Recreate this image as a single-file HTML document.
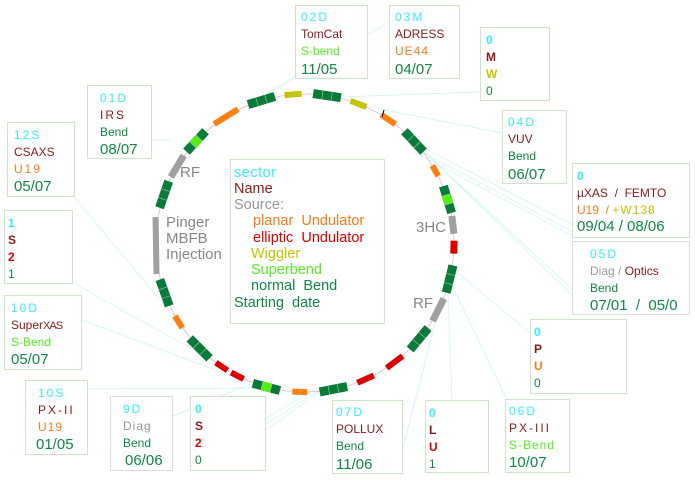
<!DOCTYPE html>
<html><head><meta charset="utf-8">
<style>
body{margin:0;background:#fff;width:695px;height:480px;overflow:hidden;position:relative;font-family:"Liberation Sans",sans-serif}
.b{position:absolute;border:1px solid #cfe6c6;background:#fff;box-sizing:border-box}
.t{position:absolute;left:5px;font-size:12px;white-space:nowrap;line-height:14px}
.d{font-size:15px;line-height:16px}
.c{color:#33eeff;letter-spacing:2px}
.r{color:#8b1a1a}
.o{color:#ff7a1a}
.lg{color:#55ee22}
.g{color:#118844}
.y{color:#c4c400}
.gr{color:#999}
.rr{color:#dd0000}
.bold{font-weight:bold}
svg{position:absolute;left:0;top:0}
.lab{position:absolute;color:#888;font-size:15px;line-height:16px}
.lt{position:absolute;font-size:14.5px;white-space:nowrap;line-height:16px}
</style></head><body>
<svg id="s" width="695" height="480"></svg>

<div class="b" style="left:295px;top:5px;width:73px;height:74px">
<div class="t c" style="top:4px">02D</div><div class="t r" style="top:21px">TomCat</div><div class="t lg" style="top:38px">S-bend</div><div class="t g d" style="top:56px">11/05</div></div>
<div class="b" style="left:389px;top:5px;width:71px;height:74px">
<div class="t c" style="top:4px">03M</div><div class="t r" style="top:21px">ADRESS</div><div class="t o" style="top:38px;letter-spacing:1px">UE44</div><div class="t g d" style="top:56px">04/07</div></div>
<div class="b" style="left:480px;top:27px;width:70px;height:74px">
<div class="t c bold" style="top:5px">0</div><div class="t r bold" style="top:22px">M</div><div class="t y bold" style="top:39px">W</div><div class="t g" style="top:56px">0</div></div>
<div class="b" style="left:502px;top:110px;width:65px;height:74px">
<div class="t c" style="top:4px">04D</div><div class="t r" style="top:21px">VUV</div><div class="t g" style="top:38px">Bend</div><div class="t g d" style="top:56px">06/07</div></div>
<div class="b" style="left:572px;top:163px;width:118px;height:75px">
<div class="t c bold" style="top:5px;left:4px">0</div><div class="t r" style="top:22px;left:4px">µXAS &nbsp;/ &nbsp;FEMTO</div><div class="t o" style="top:39px;left:4px">U19 &nbsp;/ <span class="y" style="letter-spacing:1px">+W138</span></div><div class="t g d" style="top:55px;left:4px">09/04 / 08/06</div></div>
<div class="b" style="left:572px;top:241px;width:118px;height:74px;border-color:#ddd">
<div class="t c" style="top:5px;left:17px">05D</div><div class="t" style="top:22px;left:17px"><span class="gr">Diag</span> <span class="gr">/</span> <span class="r">Optics</span></div><div class="t g" style="top:39px;left:17px">Bend</div><div class="t g d" style="top:56px;left:17px">07/01 &nbsp;/ &nbsp;05/0</div></div>
<div class="b" style="left:530px;top:319px;width:97px;height:75px">
<div class="t c bold" style="top:5px;left:3px">0</div><div class="t r bold" style="top:22px;left:3px">P</div><div class="t o bold" style="top:39px;left:3px">U</div><div class="t g" style="top:56px;left:3px">0</div></div>
<div class="b" style="left:505px;top:399px;width:65px;height:74px">
<div class="t c" style="top:4px;left:3px">06D</div><div class="t r" style="top:21px;left:3px;letter-spacing:2px">PX-III</div><div class="t lg" style="top:38px;left:3px;letter-spacing:1px">S-Bend</div><div class="t g d" style="top:55px;left:3px">10/07</div></div>
<div class="b" style="left:425px;top:400px;width:64px;height:73px">
<div class="t c bold" style="top:5px;left:3px">0</div><div class="t r bold" style="top:22px;left:3px">L</div><div class="t rr bold" style="top:39px;left:3px">U</div><div class="t g" style="top:56px;left:3px">1</div></div>
<div class="b" style="left:332px;top:400px;width:71px;height:74px">
<div class="t c" style="top:4px;left:3px">07D</div><div class="t r" style="top:21px;left:3px">POLLUX</div><div class="t g" style="top:38px;left:3px">Bend</div><div class="t g d" style="top:56px;left:3px">11/06</div></div>
<div class="b" style="left:190px;top:396px;width:76px;height:75px">
<div class="t c bold" style="top:5px;left:4px">0</div><div class="t r bold" style="top:22px;left:4px">S</div><div class="t rr bold" style="top:39px;left:4px">2</div><div class="t g" style="top:56px;left:4px">0</div></div>
<div class="b" style="left:110px;top:396px;width:63px;height:75px;border-color:#ddd">
<div class="t c" style="top:5px;left:12px">9D</div><div class="t gr" style="top:22px;left:12px;letter-spacing:1px">Diag</div><div class="t g" style="top:39px;left:12px">Bend</div><div class="t g d" style="top:56px;left:14px">06/06</div></div>
<div class="b" style="left:25px;top:380px;width:63px;height:75px">
<div class="t c" style="top:5px;left:12px">10S</div><div class="t r" style="top:22px;left:12px;letter-spacing:2px">PX-II</div><div class="t o" style="top:39px;left:12px;letter-spacing:1px">U19</div><div class="t g d" style="top:56px;left:10px">01/05</div></div>
<div class="b" style="left:4px;top:295px;width:78px;height:75px">
<div class="t c" style="top:5px;left:6px">10D</div><div class="t r" style="top:22px;left:6px">Super<span style="letter-spacing:-1px;font-size:11px">XAS</span></div><div class="t lg" style="top:39px;left:6px">S-Bend</div><div class="t g d" style="top:56px;left:6px">05/07</div></div>
<div class="b" style="left:4px;top:210px;width:69px;height:74px">
<div class="t c bold" style="top:5px;left:3px">1</div><div class="t r bold" style="top:22px;left:3px">S</div><div class="t rr bold" style="top:39px;left:3px">2</div><div class="t g" style="top:56px;left:3px">1</div></div>
<div class="b" style="left:7px;top:122px;width:68px;height:75px">
<div class="t c" style="top:5px;left:6px">12S</div><div class="t r" style="top:22px;left:6px">CSAXS</div><div class="t o" style="top:39px;left:6px;letter-spacing:2px">U19</div><div class="t g d" style="top:56px;left:6px">05/07</div></div>
<div class="b" style="left:87px;top:85px;width:65px;height:74px">
<div class="t c" style="top:5px;left:12px">01D</div><div class="t r" style="top:22px;left:12px;letter-spacing:2px">IRS</div><div class="t g" style="top:39px;left:12px">Bend</div><div class="t g d" style="top:56px;left:12px">08/07</div></div>

<div class="b" style="left:230px;top:159px;width:155px;height:165px">
<div class="lt c" style="top:5px;left:3px;letter-spacing:0.5px">sector</div>
<div class="lt r" style="top:21px;left:3px">Name</div>
<div class="lt gr" style="top:37px;left:3px">Source:</div>
<div class="lt o" style="top:53px;left:22px">planar &nbsp;Undulator</div>
<div class="lt rr" style="top:70px;left:22px">elliptic &nbsp;Undulator</div>
<div class="lt y" style="top:86px;left:20px">Wiggler</div>
<div class="lt lg" style="top:102px;left:20px">Superbend</div>
<div class="lt g" style="top:118px;left:20px">normal &nbsp;Bend</div>
<div class="lt g" style="top:135px;left:3px">Starting &nbsp;date</div>
</div>

<div class="lab" style="left:180px;top:165px">RF</div>
<div class="lab" style="left:166px;top:215px;line-height:16px">Pinger<br>MBFB<br>Injection</div>
<div class="lab" style="left:416px;top:220px">3HC</div>
<div class="lab" style="left:413px;top:296px">RF</div>

<script>
var s=document.getElementById('s'),h='';
var L='#c8f2f2';
var lines=[[296,78,230,115],[389,22,268,92],[480,92,340,97],[502,133,350,103],[573,225,420,146],[573,232,418,150],[573,236,414,152],[573,290,422,150],[573,296,425,152],[530,333,448,265],[507,400,452,285],[452,400,448,292],[403,448,438,312],[266,418,318,388],[266,424,322,389],[266,430,324,389],[173,416,250,384],[88,389,262,388],[82,320,232,376],[73,283,230,370],[75,198,200,348],[152,140,170,140]];
lines.forEach(function(l){h+='<line x1="'+l[0]+'" y1="'+l[1]+'" x2="'+l[2]+'" y2="'+l[3]+'" stroke="'+L+'" stroke-width="0.7"/>';});
h+='<circle cx="305" cy="243" r="149" fill="none" stroke="#e7b8b8" stroke-width="0.8"/>';
var G='#0a7a3a',LG='#55ee11',O='#ff7f11',Y='#c4c400',R='#dd0000',GR='#a0a0a0';
function seg(a,len,th,col,n,mid){
 var x=305-len/2,y=94-th/2;
 h+='<g transform="rotate('+a+' 305 243)"><rect x="'+x+'" y="'+y+'" width="'+len+'" height="'+th+'" fill="'+col+'"/>';
 if(n){var w=len/n;for(var i=0;i<n;i++){if(mid&&i==1)h+='<rect x="'+(x+w)+'" y="'+y+'" width="'+w+'" height="'+th+'" fill="'+LG+'"/>';}
  for(var i=1;i<n;i++)h+='<line x1="'+(x+w*i)+'" y1="'+y+'" x2="'+(x+w*i)+'" y2="'+(y+th)+'" stroke="#9c9" stroke-width="0.6"/>';}
 h+='</g>';
}
var T=9;
seg(-17,28,T,G,3);seg(-4.6,17,6,Y,2);seg(8.5,28,T,G,3);seg(21,17,6,Y,1);
seg(34,17,6,O,1);seg(47,28,T,G,3);seg(61,12,6,O,1);seg(73,28,T,G,3,1);
seg(83,18,7,GR,1);seg(91.6,13,7,R,1);seg(104,28,T,G,3);seg(116.6,25,7,GR,1);
seg(130,28,T,G,3);seg(143,20,6,R,1);seg(156,18,6,R,1);seg(169,28,T,G,3);
seg(182,15,6,O,2);seg(195,28,T,G,3,1);seg(207,14,6,R,1);seg(214,14,6,R,1);
seg(225,28,T,G,3);seg(238,14,6,O,1);seg(250.5,28,T,G,3);seg(269,57,6,GR,1);
seg(289,28,T,G,3);seg(301,25,7,GR,1);seg(313,28,T,G,3,1);seg(328,28,6,O,1);
h+='<line x1="384" y1="110" x2="382" y2="117" stroke="#000" stroke-width="1"/>';
s.innerHTML=h;
</script>
</body></html>
